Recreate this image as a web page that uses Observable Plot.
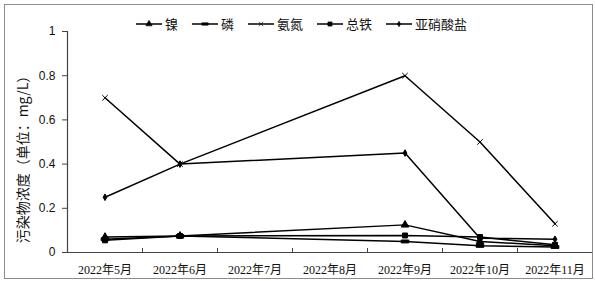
<!DOCTYPE html>
<html><head><meta charset="utf-8">
<script src="https://cdn.jsdelivr.net/npm/d3@7"></script>
<script src="https://cdn.jsdelivr.net/npm/@observablehq/plot@0.6"></script>
<style>
body{margin:0;background:#fff;}
#wrap{position:relative;width:595px;height:281px;overflow:hidden;background:#fff;}
#chart{position:absolute;left:0;top:0;}
#border{position:absolute;left:4px;top:4px;width:589px;height:275px;box-sizing:border-box;border:1px solid #8c8c8c;pointer-events:none;}
#legend{position:absolute;left:136px;top:16px;display:flex;align-items:center;font:13px/16px "Noto Sans CJK SC",sans-serif;color:#111;}
.item{display:flex;align-items:center;margin-right:14px;}
.item svg{margin-right:3px;display:block;}
#ylabel{position:absolute;left:22px;top:156px;transform:translate(-50%,-50%) rotate(-90deg);white-space:nowrap;font:14px/16px "Noto Sans CJK SC",sans-serif;color:#111;}
</style></head><body>
<div id="wrap"><div id="chart"></div><div id="legend"></div><div id="ylabel"></div><div id="border"></div></div>
<script>
const months = ["2022年5月","2022年6月","2022年7月","2022年8月","2022年9月","2022年10月","2022年11月"];
const sampledMonths = ["2022年5月","2022年6月","2022年9月","2022年10月","2022年11月"];
const seriesNames = ["镍","磷","氨氮","总铁","亚硝酸盐"];
const nickel     = [0.07, 0.075, 0.125, 0.05, 0.03];
const phosphorus = [0.06, 0.075, 0.05, 0.03, 0.025];
const ammonia    = [0.70, 0.40, 0.80, 0.50, 0.13];
const totalIron  = [0.055, 0.075, 0.077, 0.07, 0.035];
const nitrite    = [0.25, 0.40, 0.45, 0.065, 0.06];
const yTicks = [0, 0.2, 0.4, 0.6, 0.8, 1];
const yTitle = "污染物浓度（单位：mg/L）";

const seriesValues = [nickel, phosphorus, ammonia, totalIron, nitrite];

const dashSymbol = {draw(ctx, size){ const w = Math.sqrt(size)*1.6, h = w*0.38; ctx.rect(-w/2,-h/2,w,h); ctx.closePath(); }};
const symbols = [d3.symbolTriangle, dashSymbol, d3.symbolTimes, d3.symbolSquare, d3.symbolDiamond];
const radii = [2.8, 2.7, 2.6, 2.8, 2.0];

const rows = [];
seriesNames.forEach((s, si) => {
  sampledMonths.forEach((m, mi) => {
    rows.push({series: s, si, idx: months.indexOf(m), value: seriesValues[si][mi]});
  });
});

const boundaries = months.slice(0, -1).map((_, i) => i + 0.5);

const dotMarks = seriesNames.map((s, si) =>
  Plot.dot(rows.filter(r => r.si === si), {x: "idx", y: "value", symbol: symbols[si], r: radii[si], fill: "#000", stroke: "#000", strokeWidth: 1})
);

const chart = Plot.plot({
  width: 595, height: 281,
  marginLeft: 67, marginRight: 3, marginTop: 31, marginBottom: 29,
  style: {fontFamily: "'Liberation Sans', Arial, sans-serif", fontSize: "12px", color: "#111", background: "transparent"},
  x: {type: "linear", domain: [-0.5, months.length - 0.5]},
  y: {domain: [0, 1]},
  marks: [
    Plot.axisY({ticks: yTicks, tickSize: 5, tickPadding: 7, tickFormat: d => String(d), label: null, fontSize: 12, stroke: "#444"}),
    Plot.axisX({ticks: boundaries, tickSize: 4, dy: -4, tickFormat: () => "", label: null, stroke: "#444"}),
    Plot.axisX({ticks: months.map((_, i) => i), tickSize: 0, tickPadding: 13, tickFormat: i => months[i], label: null,
      fontFamily: "'Liberation Serif', 'Times New Roman', 'Noto Sans CJK SC', serif", fontSize: 12}),
    Plot.ruleY([0], {stroke: "#444", strokeWidth: 1.2}),
    Plot.ruleX([-0.5], {stroke: "#444", strokeWidth: 1.2}),
    Plot.line(rows, {x: "idx", y: "value", z: "series", stroke: "#000", strokeWidth: 1.5}),
    ...dotMarks
  ]
});
document.getElementById("chart").appendChild(chart);

document.getElementById("ylabel").textContent = yTitle;

const legend = document.getElementById("legend");
seriesNames.forEach((s, si) => {
  const item = document.createElement("div");
  item.className = "item";
  const svg = d3.create("svg").attr("width", 26).attr("height", 10);
  svg.append("line").attr("x1", 0).attr("x2", 26).attr("y1", 5).attr("y2", 5).attr("stroke", "#000").attr("stroke-width", 1.5);
  svg.append("path").attr("transform", "translate(13,5)")
    .attr("d", d3.symbol(symbols[si], Math.PI * radii[si] * radii[si] * 0.7)())
    .attr("fill", "#000").attr("stroke", "#000").attr("stroke-width", 0.6);
  item.appendChild(svg.node());
  const t = document.createElement("span");
  t.textContent = s;
  item.appendChild(t);
  legend.appendChild(item);
});
</script>
</body></html>
